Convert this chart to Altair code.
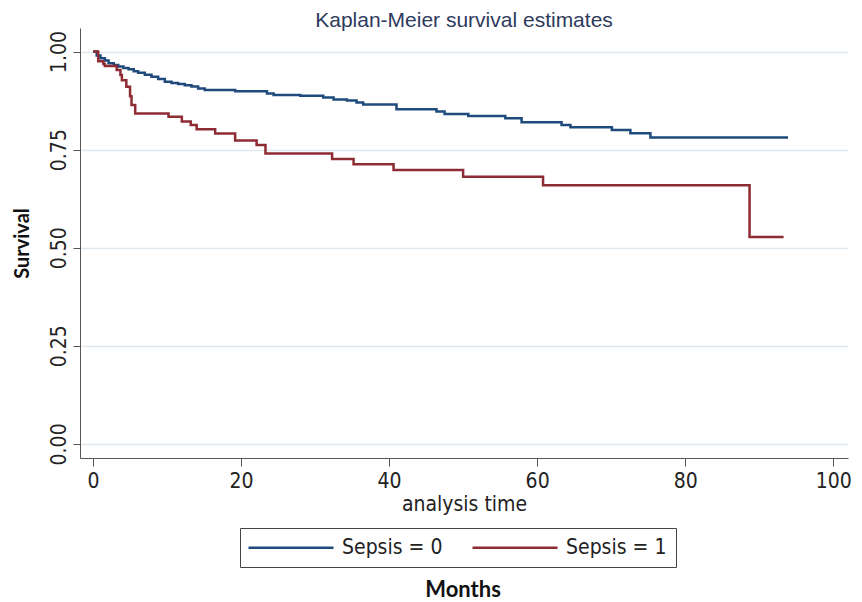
import altair as alt
import pandas as pd

t0 = [0, 0.5, 1.0, 1.6, 2.1, 2.8, 3.4, 4.1, 4.8, 5.5, 6.1, 7.0, 7.9, 8.8, 9.7, 10.6,
      11.5, 12.4, 13.3, 14.2, 15.1, 19.2, 23.5, 24.4, 28.0, 31.1, 32.5, 34.3, 35.6,
      36.5, 41.0, 46.4, 47.5, 50.7, 55.7, 57.9, 63.3, 64.5, 70.1, 72.6, 75.3, 93.9]
s0 = [1.0, 0.990, 0.983, 0.977, 0.970, 0.966, 0.962, 0.958, 0.955, 0.950, 0.946, 0.941,
      0.936, 0.930, 0.923, 0.920, 0.917, 0.914, 0.911, 0.906, 0.902, 0.899, 0.893, 0.889,
      0.887, 0.883, 0.878, 0.875, 0.870, 0.865, 0.853, 0.847, 0.841, 0.836, 0.830, 0.820,
      0.813, 0.807, 0.800, 0.792, 0.781, 0.781]

t1 = [0, 0.7, 1.4, 1.6, 3.2, 3.7, 3.9, 4.5, 5.0, 5.2, 5.7, 10.2, 12.0, 13.2, 14.0, 16.5,
      19.2, 22.1, 23.3, 32.3, 35.2, 40.6, 50.0, 60.8, 88.7, 93.3]
s1 = [1.0, 0.975, 0.968, 0.963, 0.953, 0.940, 0.927, 0.910, 0.886, 0.864, 0.842, 0.834,
      0.822, 0.813, 0.802, 0.791, 0.773, 0.762, 0.740, 0.726, 0.713, 0.698, 0.681, 0.659,
      0.527, 0.527]

groups = ["Sepsis = 0", "Sepsis = 1"]
colors = ["#1f4a7c", "#8e2c34"]
x_ticks = [0, 20, 40, 60, 80, 100]
y_ticks = [0, 0.25, 0.5, 0.75, 1.0]

df = pd.concat([
    pd.DataFrame({"time": t0, "surv": s0, "group": groups[0]}),
    pd.DataFrame({"time": t1, "surv": s1, "group": groups[1]}),
])

FONT = "Liberation Sans Narrow, Arial Narrow, DejaVu Sans Condensed, Liberation Sans, Arial"

lines = alt.Chart(df).mark_line(interpolate="step-after", strokeWidth=2.5).encode(
    x=alt.X("time:Q", scale=alt.Scale(domain=[-1.76, 102], nice=False, zero=False),
            axis=alt.Axis(values=x_ticks, title="analysis time", grid=False,
                          labelFontSize=21, titleFontSize=21, labelFont=FONT, titleFont=FONT,
                          titleFontWeight="normal",
                          tickSize=8, labelPadding=4, titlePadding=2,
                          labelColor="#222", titleColor="#222",
                          domainColor="#555", tickColor="#555")),
    y=alt.Y("surv:Q", scale=alt.Scale(domain=[-0.036, 1.06], nice=False, zero=False),
            axis=alt.Axis(values=y_ticks, format=".2f", title="Survival",
                          labelAngle=270, labelAlign="center", labelBaseline="bottom",
                          labelFontSize=21, labelFont=FONT, labelPadding=4,
                          titleFontSize=20, titleFont="Lato", titleFontWeight="bold",
                          titlePadding=16, tickSize=7, grid=True,
                          gridColor="#dfe8ef", gridWidth=1.5,
                          labelColor="#222", titleColor="#111",
                          domainColor="#555", tickColor="#555")),
    color=alt.Color("group:N", scale=alt.Scale(domain=groups, range=colors),
                    legend=alt.Legend(title=None, orient="none", direction="horizontal",
                                      legendX=160, legendY=500,
                                      symbolType="M-1,0H16", symbolSize=100,
                                      symbolStrokeWidth=2.5, symbolOffset=-6,
                                      labelFontSize=21, labelFont=FONT, labelColor="#222",
                                      columnPadding=24, labelOffset=78,
                                      strokeColor="#444", padding=9,
                                      fillColor="white")),
)

months = alt.Chart(pd.DataFrame({"label": ["Months"]})).mark_text(
    font="Lato", fontWeight="bold", fontSize=22, color="#111", baseline="middle"
).encode(x=alt.value(383), y=alt.value(562), text="label:N")

chart = alt.layer(lines, months).properties(
    width=768, height=430,
    title=alt.TitleParams("Kaplan-Meier survival estimates", anchor="middle", fontSize=21,
                          font="Liberation Sans, Arial", fontWeight="normal",
                          color="#2e3a5c", offset=-3),
    autosize=alt.AutoSizeParams(type="none"),
    padding={"left": 72, "top": 20, "right": 6, "bottom": 150},
).configure_view(stroke=None)

chart.save("out.html", embed_options={"renderer": "svg", "actions": False})
